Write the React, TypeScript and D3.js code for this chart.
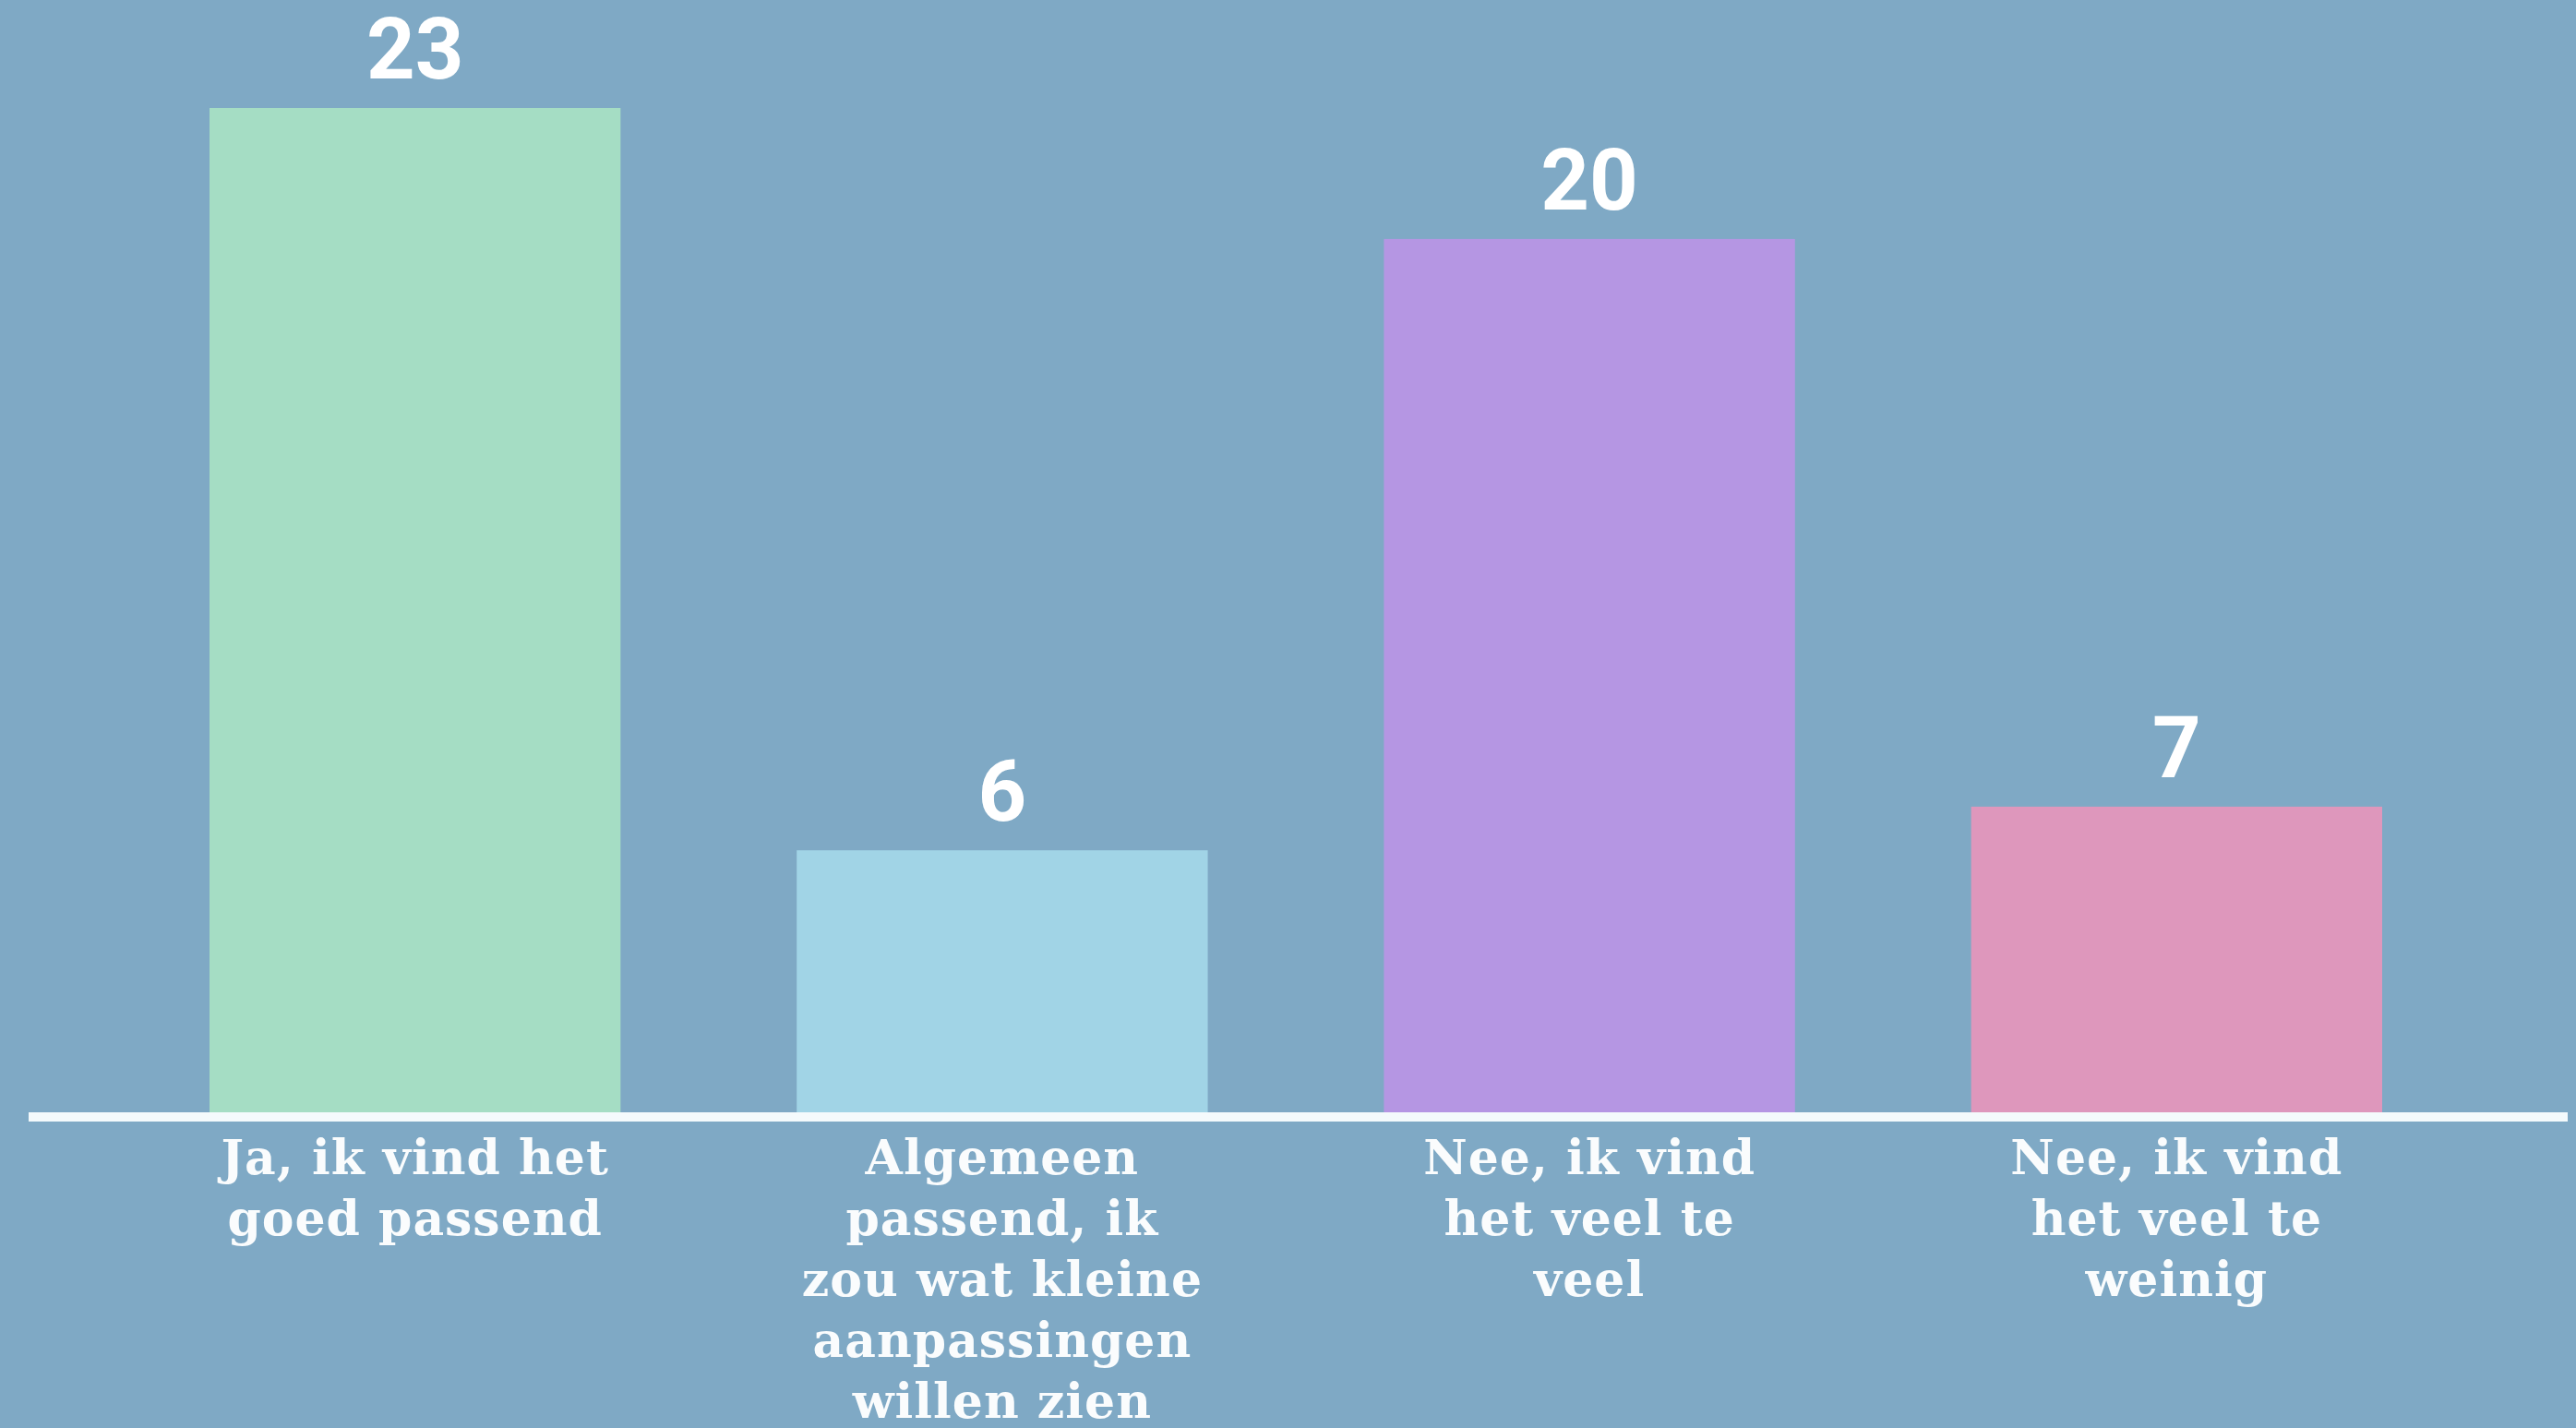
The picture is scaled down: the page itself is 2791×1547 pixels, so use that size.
import React from "react";
import * as d3 from "d3";

const categories = ["Ja", "Algemeen", "NeeVeel", "NeeWeinig"];
const values = [23, 6, 20, 7];
const labelLines = [
  ["Ja, ik vind het", "goed passend"],
  ["Algemeen", "passend, ik", "zou wat kleine", "aanpassingen", "willen zien"],
  ["Nee, ik vind", "het veel te", "veel"],
  ["Nee, ik vind", "het veel te", "weinig"],
];
const colors = ["#A5DDC4", "#A1D4E6", "#B596E3", "#DE97BC"];

const W = 2791;
const H = 1547;

export default function App() {
  const x = d3.scaleBand<string>().domain(categories).range([227, 2581]).paddingInner(0.3).paddingOuter(0);
  const y = d3.scaleLinear().domain([0, 23]).range([1205, 117]);
  return (
    <svg
      width={W}
      height={H}
      style={{ position: "absolute", left: 0, top: 0, display: "block" }}
    >
      <rect x={0} y={0} width={W} height={H} fill="#7FA9C5" />
      {categories.map((c, i) => (
        <g key={c}>
          <rect
            x={x(c)}
            y={y(values[i])}
            width={x.bandwidth()}
            height={y(0) - y(values[i])}
            fill={colors[i]}
          />
          <text
            x={(x(c) as number) + x.bandwidth() / 2}
            y={y(values[i]) - 32}
            textAnchor="middle"
            fontFamily="Roboto, 'Open Sans', sans-serif"
            fontWeight={700}
            fontSize={92}
            fill="#FFFFFF"
          >
            {values[i]}
          </text>
          {labelLines[i].map((ln, j) => (
            <text
              key={j}
              x={(x(c) as number) + x.bandwidth() / 2}
              y={1272 + j * 66}
              textAnchor="middle"
              fontFamily="'DejaVu Serif', serif"
              fontWeight={700}
              fontSize={52}
              letterSpacing={1}
              fill="#FAFCFD"
            >
              {ln}
            </text>
          ))}
        </g>
      ))}
      <line x1={31} x2={2782} y1={1210} y2={1210} stroke="#F4FAFC" strokeWidth={10} />
    </svg>
  );
}
